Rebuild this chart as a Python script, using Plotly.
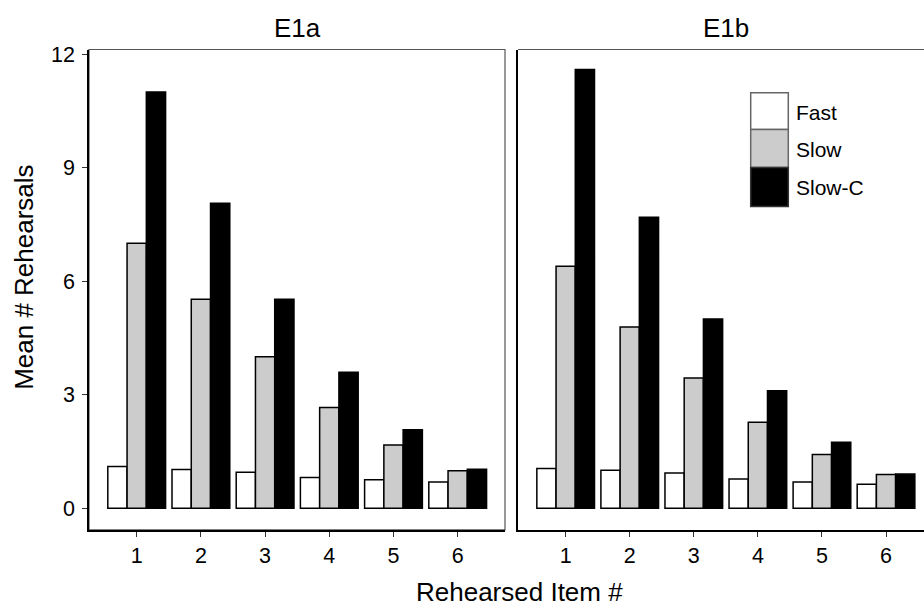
import plotly.graph_objects as go

# Mean number of rehearsals per rehearsed item position, by presentation condition
items = [1, 2, 3, 4, 5, 6]
conditions = ["Fast", "Slow", "Slow-C"]
fills = {"Fast": "#ffffff", "Slow": "#cccccc", "Slow-C": "#000000"}

e1a_fast = [1.10, 1.02, 0.95, 0.81, 0.75, 0.69]
e1a_slow = [7.00, 5.52, 4.00, 2.66, 1.67, 0.99]
e1a_slowc = [11.00, 8.06, 5.52, 3.59, 2.07, 1.03]

e1b_fast = [1.05, 1.00, 0.93, 0.77, 0.69, 0.63]
e1b_slow = [6.39, 4.79, 3.44, 2.27, 1.42, 0.89]
e1b_slowc = [11.59, 7.69, 5.00, 3.10, 1.74, 0.90]

panels = [
    ("E1a", [e1a_fast, e1a_slow, e1a_slowc], "x", "y"),
    ("E1b", [e1b_fast, e1b_slow, e1b_slowc], "x2", "y2"),
]

W, H = 924, 609
FONT = "Liberation Sans, Arial, sans-serif"

fig = go.Figure()
for name, series, xa, ya in panels:
    for cond, vals in zip(conditions, series):
        fig.add_trace(go.Bar(
            x=items, y=vals, name=cond, xaxis=xa, yaxis=ya,
            marker=dict(color=fills[cond], line=dict(color="#000000", width=1.5)),
            showlegend=False,
        ))


def px_x(p):
    return p / W


def px_y(p):
    return 1 - p / H


ydom = [px_y(529), px_y(43)]
yrange = [-0.575, 12.12]

axis_common = dict(
    showgrid=False, zeroline=False, showline=True, linecolor="#000000", linewidth=1.5,
    ticks="outside", ticklen=5, tickwidth=1.2, tickcolor="#333333",
    tickfont=dict(family=FONT, size=21.5, color="#000000"),
)

fig.update_layout(
    width=W, height=H,
    margin=dict(l=0, r=0, t=0, b=0),
    paper_bgcolor="#ffffff", plot_bgcolor="#ffffff",
    barmode="group", bargap=0.1, bargroupgap=0,
    font=dict(family=FONT, color="#000000"),
    xaxis=dict(domain=[px_x(89), px_x(505)], range=[0.257, 6.737],
               tickvals=items, ticktext=[str(i) for i in items], ticklabelstandoff=1,
               **axis_common),
    yaxis=dict(domain=ydom, range=yrange, tickvals=[0, 3, 6, 9, 12],
               ticklabelstandoff=3, **axis_common),
    xaxis2=dict(domain=[px_x(518), 1.0], range=[0.256, 6.593], anchor="y2",
                tickvals=items, ticktext=[str(i) for i in items], ticklabelstandoff=1,
                **axis_common),
    yaxis2=dict(domain=ydom, range=yrange, anchor="x2", showticklabels=False,
                **{**axis_common, "ticks": ""}),
)

shapes = []
# Panel frames (grey), drawn beneath the black axis lines
shapes.append(dict(type="rect", xref="x domain", yref="y domain", x0=0, x1=1, y0=0, y1=1,
                   line=dict(color="#555555", width=1.2), layer="below"))
shapes.append(dict(type="line", xref="x2 domain", yref="y2 domain", x0=0, x1=1, y0=1, y1=1,
                   line=dict(color="#555555", width=1.2), layer="below"))

annotations = []
title_font = dict(family=FONT, size=26, color="#000000")
# Facet strip titles
annotations.append(dict(text="E1a", xref="paper", yref="paper", x=px_x(297), y=px_y(21),
                        showarrow=False, font=title_font,
                        xanchor="center", yanchor="middle"))
annotations.append(dict(text="E1b", xref="paper", yref="paper", x=px_x(725.5), y=px_y(21),
                        showarrow=False, font=title_font,
                        xanchor="center", yanchor="middle"))
# Shared axis titles
annotations.append(dict(text="Rehearsed Item #", xref="paper", yref="paper",
                        x=px_x(519.5), y=px_y(592), showarrow=False, font=title_font,
                        xanchor="center", yanchor="middle"))
annotations.append(dict(text="Mean # Rehearsals", xref="paper", yref="paper",
                        x=px_x(24), y=px_y(274), showarrow=False, textangle=-90,
                        font=title_font, xanchor="center", yanchor="middle"))

# Legend keys inside the E1b panel
key_x0, key_x1 = 750.7, 788.3
key_rows = [86.7, 124.0, 162.3, 201.7]
key_borders = {"Fast": "#666666", "Slow": "#666666", "Slow-C": "#333333"}
for i, cond in enumerate(conditions):
    top, bot = key_rows[i], key_rows[i + 1]
    shapes.append(dict(type="rect", xref="paper", yref="paper",
                       x0=px_x(key_x0), x1=px_x(key_x1), y0=px_y(bot), y1=px_y(top),
                       fillcolor=fills[cond], line=dict(color=key_borders[cond], width=1.5)))
    annotations.append(dict(text=cond, xref="paper", yref="paper",
                            x=px_x(794), y=px_y((top + bot) / 2 + 1), showarrow=False,
                            font=dict(family=FONT, size=21, color="#000000"),
                            xanchor="left", yanchor="middle"))

fig.update_layout(shapes=shapes, annotations=annotations)

fig.write_html("out.html")
